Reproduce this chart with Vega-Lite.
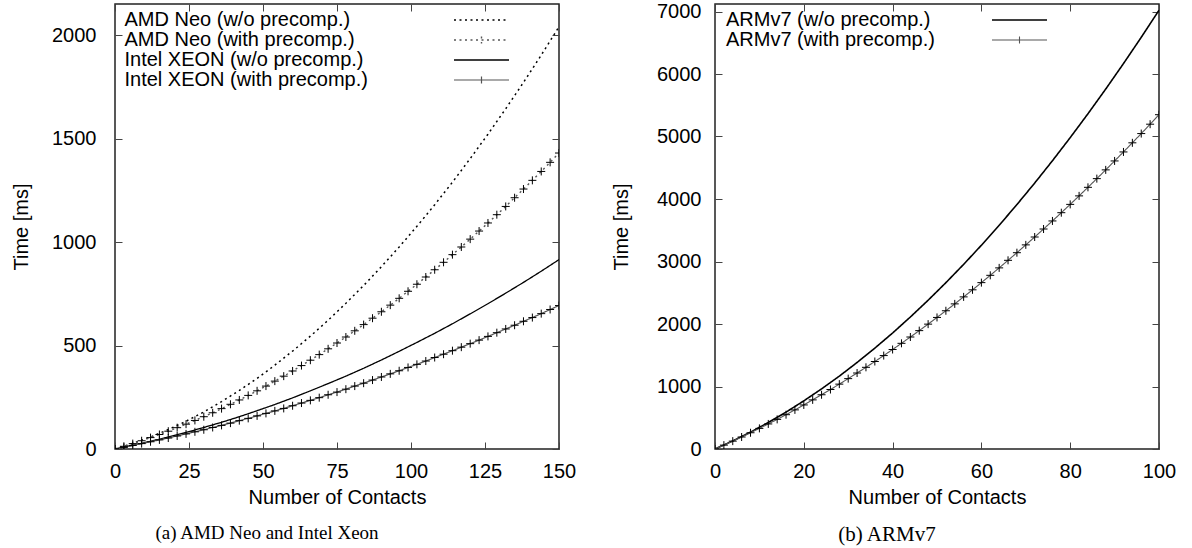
{
"$schema": "https://vega.github.io/schema/vega-lite/v6.json",
"padding": {"left": 10, "top": 0, "right": 5, "bottom": 0},
"spacing": 33,
"datasets": {
"left": [
{"series":"AMD Neo (w/o precomp.)","n":0,"ms":0},{"series":"AMD Neo (w/o precomp.)","n":6,"ms":27},{"series":"AMD Neo (w/o precomp.)","n":12,"ms":58},{"series":"AMD Neo (w/o precomp.)","n":18,"ms":94},{"series":"AMD Neo (w/o precomp.)","n":24,"ms":134},{"series":"AMD Neo (w/o precomp.)","n":30,"ms":179},{"series":"AMD Neo (w/o precomp.)","n":36,"ms":229},{"series":"AMD Neo (w/o precomp.)","n":42,"ms":283},{"series":"AMD Neo (w/o precomp.)","n":48,"ms":341},{"series":"AMD Neo (w/o precomp.)","n":54,"ms":405},{"series":"AMD Neo (w/o precomp.)","n":60,"ms":473},{"series":"AMD Neo (w/o precomp.)","n":66,"ms":545},{"series":"AMD Neo (w/o precomp.)","n":72,"ms":622},{"series":"AMD Neo (w/o precomp.)","n":78,"ms":704},{"series":"AMD Neo (w/o precomp.)","n":84,"ms":790},{"series":"AMD Neo (w/o precomp.)","n":90,"ms":881},{"series":"AMD Neo (w/o precomp.)","n":96,"ms":976},{"series":"AMD Neo (w/o precomp.)","n":102,"ms":1076},{"series":"AMD Neo (w/o precomp.)","n":108,"ms":1180},{"series":"AMD Neo (w/o precomp.)","n":114,"ms":1289},{"series":"AMD Neo (w/o precomp.)","n":120,"ms":1403},{"series":"AMD Neo (w/o precomp.)","n":126,"ms":1521},{"series":"AMD Neo (w/o precomp.)","n":132,"ms":1644},{"series":"AMD Neo (w/o precomp.)","n":138,"ms":1771},{"series":"AMD Neo (w/o precomp.)","n":144,"ms":1903},{"series":"AMD Neo (w/o precomp.)","n":150,"ms":2040},
{"series":"AMD Neo (with precomp.)","n":0,"ms":0},{"series":"AMD Neo (with precomp.)","n":3,"ms":13},{"series":"AMD Neo (with precomp.)","n":6,"ms":26},{"series":"AMD Neo (with precomp.)","n":9,"ms":40},{"series":"AMD Neo (with precomp.)","n":12,"ms":55},{"series":"AMD Neo (with precomp.)","n":15,"ms":70},{"series":"AMD Neo (with precomp.)","n":18,"ms":86},{"series":"AMD Neo (with precomp.)","n":21,"ms":103},{"series":"AMD Neo (with precomp.)","n":24,"ms":120},{"series":"AMD Neo (with precomp.)","n":27,"ms":138},{"series":"AMD Neo (with precomp.)","n":30,"ms":156},{"series":"AMD Neo (with precomp.)","n":33,"ms":175},{"series":"AMD Neo (with precomp.)","n":36,"ms":195},{"series":"AMD Neo (with precomp.)","n":39,"ms":216},{"series":"AMD Neo (with precomp.)","n":42,"ms":237},{"series":"AMD Neo (with precomp.)","n":45,"ms":259},{"series":"AMD Neo (with precomp.)","n":48,"ms":281},{"series":"AMD Neo (with precomp.)","n":51,"ms":304},{"series":"AMD Neo (with precomp.)","n":54,"ms":328},{"series":"AMD Neo (with precomp.)","n":57,"ms":352},{"series":"AMD Neo (with precomp.)","n":60,"ms":377},{"series":"AMD Neo (with precomp.)","n":63,"ms":403},{"series":"AMD Neo (with precomp.)","n":66,"ms":429},{"series":"AMD Neo (with precomp.)","n":69,"ms":456},{"series":"AMD Neo (with precomp.)","n":72,"ms":484},{"series":"AMD Neo (with precomp.)","n":75,"ms":512},{"series":"AMD Neo (with precomp.)","n":78,"ms":541},{"series":"AMD Neo (with precomp.)","n":81,"ms":571},{"series":"AMD Neo (with precomp.)","n":84,"ms":601},{"series":"AMD Neo (with precomp.)","n":87,"ms":632},{"series":"AMD Neo (with precomp.)","n":90,"ms":663},{"series":"AMD Neo (with precomp.)","n":93,"ms":695},{"series":"AMD Neo (with precomp.)","n":96,"ms":728},{"series":"AMD Neo (with precomp.)","n":99,"ms":762},{"series":"AMD Neo (with precomp.)","n":102,"ms":796},{"series":"AMD Neo (with precomp.)","n":105,"ms":831},{"series":"AMD Neo (with precomp.)","n":108,"ms":866},{"series":"AMD Neo (with precomp.)","n":111,"ms":902},{"series":"AMD Neo (with precomp.)","n":114,"ms":939},{"series":"AMD Neo (with precomp.)","n":117,"ms":976},{"series":"AMD Neo (with precomp.)","n":120,"ms":1014},{"series":"AMD Neo (with precomp.)","n":123,"ms":1053},{"series":"AMD Neo (with precomp.)","n":126,"ms":1092},{"series":"AMD Neo (with precomp.)","n":129,"ms":1132},{"series":"AMD Neo (with precomp.)","n":132,"ms":1172},{"series":"AMD Neo (with precomp.)","n":135,"ms":1214},{"series":"AMD Neo (with precomp.)","n":138,"ms":1256},{"series":"AMD Neo (with precomp.)","n":141,"ms":1298},{"series":"AMD Neo (with precomp.)","n":144,"ms":1341},{"series":"AMD Neo (with precomp.)","n":147,"ms":1385},{"series":"AMD Neo (with precomp.)","n":150,"ms":1430},
{"series":"Intel XEON (w/o precomp.)","n":0,"ms":0},{"series":"Intel XEON (w/o precomp.)","n":6,"ms":18},{"series":"Intel XEON (w/o precomp.)","n":12,"ms":37},{"series":"Intel XEON (w/o precomp.)","n":18,"ms":58},{"series":"Intel XEON (w/o precomp.)","n":24,"ms":80},{"series":"Intel XEON (w/o precomp.)","n":30,"ms":104},{"series":"Intel XEON (w/o precomp.)","n":36,"ms":129},{"series":"Intel XEON (w/o precomp.)","n":42,"ms":156},{"series":"Intel XEON (w/o precomp.)","n":48,"ms":185},{"series":"Intel XEON (w/o precomp.)","n":54,"ms":215},{"series":"Intel XEON (w/o precomp.)","n":60,"ms":247},{"series":"Intel XEON (w/o precomp.)","n":66,"ms":281},{"series":"Intel XEON (w/o precomp.)","n":72,"ms":316},{"series":"Intel XEON (w/o precomp.)","n":78,"ms":352},{"series":"Intel XEON (w/o precomp.)","n":84,"ms":390},{"series":"Intel XEON (w/o precomp.)","n":90,"ms":430},{"series":"Intel XEON (w/o precomp.)","n":96,"ms":472},{"series":"Intel XEON (w/o precomp.)","n":102,"ms":515},{"series":"Intel XEON (w/o precomp.)","n":108,"ms":559},{"series":"Intel XEON (w/o precomp.)","n":114,"ms":605},{"series":"Intel XEON (w/o precomp.)","n":120,"ms":653},{"series":"Intel XEON (w/o precomp.)","n":126,"ms":702},{"series":"Intel XEON (w/o precomp.)","n":132,"ms":753},{"series":"Intel XEON (w/o precomp.)","n":138,"ms":805},{"series":"Intel XEON (w/o precomp.)","n":144,"ms":859},{"series":"Intel XEON (w/o precomp.)","n":150,"ms":915},
{"series":"Intel XEON (with precomp.)","n":0,"ms":0},{"series":"Intel XEON (with precomp.)","n":3,"ms":8},{"series":"Intel XEON (with precomp.)","n":6,"ms":17},{"series":"Intel XEON (with precomp.)","n":9,"ms":26},{"series":"Intel XEON (with precomp.)","n":12,"ms":35},{"series":"Intel XEON (with precomp.)","n":15,"ms":44},{"series":"Intel XEON (with precomp.)","n":18,"ms":53},{"series":"Intel XEON (with precomp.)","n":21,"ms":63},{"series":"Intel XEON (with precomp.)","n":24,"ms":73},{"series":"Intel XEON (with precomp.)","n":27,"ms":83},{"series":"Intel XEON (with precomp.)","n":30,"ms":93},{"series":"Intel XEON (with precomp.)","n":33,"ms":104},{"series":"Intel XEON (with precomp.)","n":36,"ms":114},{"series":"Intel XEON (with precomp.)","n":39,"ms":125},{"series":"Intel XEON (with precomp.)","n":42,"ms":137},{"series":"Intel XEON (with precomp.)","n":45,"ms":148},{"series":"Intel XEON (with precomp.)","n":48,"ms":160},{"series":"Intel XEON (with precomp.)","n":51,"ms":172},{"series":"Intel XEON (with precomp.)","n":54,"ms":184},{"series":"Intel XEON (with precomp.)","n":57,"ms":196},{"series":"Intel XEON (with precomp.)","n":60,"ms":209},{"series":"Intel XEON (with precomp.)","n":63,"ms":222},{"series":"Intel XEON (with precomp.)","n":66,"ms":235},{"series":"Intel XEON (with precomp.)","n":69,"ms":248},{"series":"Intel XEON (with precomp.)","n":72,"ms":262},{"series":"Intel XEON (with precomp.)","n":75,"ms":275},{"series":"Intel XEON (with precomp.)","n":78,"ms":289},{"series":"Intel XEON (with precomp.)","n":81,"ms":304},{"series":"Intel XEON (with precomp.)","n":84,"ms":318},{"series":"Intel XEON (with precomp.)","n":87,"ms":333},{"series":"Intel XEON (with precomp.)","n":90,"ms":348},{"series":"Intel XEON (with precomp.)","n":93,"ms":363},{"series":"Intel XEON (with precomp.)","n":96,"ms":378},{"series":"Intel XEON (with precomp.)","n":99,"ms":394},{"series":"Intel XEON (with precomp.)","n":102,"ms":409},{"series":"Intel XEON (with precomp.)","n":105,"ms":425},{"series":"Intel XEON (with precomp.)","n":108,"ms":442},{"series":"Intel XEON (with precomp.)","n":111,"ms":458},{"series":"Intel XEON (with precomp.)","n":114,"ms":475},{"series":"Intel XEON (with precomp.)","n":117,"ms":492},{"series":"Intel XEON (with precomp.)","n":120,"ms":509},{"series":"Intel XEON (with precomp.)","n":123,"ms":526},{"series":"Intel XEON (with precomp.)","n":126,"ms":544},{"series":"Intel XEON (with precomp.)","n":129,"ms":562},{"series":"Intel XEON (with precomp.)","n":132,"ms":580},{"series":"Intel XEON (with precomp.)","n":135,"ms":598},{"series":"Intel XEON (with precomp.)","n":138,"ms":617},{"series":"Intel XEON (with precomp.)","n":141,"ms":635},{"series":"Intel XEON (with precomp.)","n":144,"ms":654},{"series":"Intel XEON (with precomp.)","n":147,"ms":674},{"series":"Intel XEON (with precomp.)","n":150,"ms":693}
],
"right": [
{"series":"ARMv7 (w/o precomp.)","n":0,"ms":0},{"series":"ARMv7 (w/o precomp.)","n":4,"ms":129},{"series":"ARMv7 (w/o precomp.)","n":8,"ms":270},{"series":"ARMv7 (w/o precomp.)","n":12,"ms":424},{"series":"ARMv7 (w/o precomp.)","n":16,"ms":590},{"series":"ARMv7 (w/o precomp.)","n":20,"ms":770},{"series":"ARMv7 (w/o precomp.)","n":24,"ms":962},{"series":"ARMv7 (w/o precomp.)","n":28,"ms":1166},{"series":"ARMv7 (w/o precomp.)","n":32,"ms":1384},{"series":"ARMv7 (w/o precomp.)","n":36,"ms":1614},{"series":"ARMv7 (w/o precomp.)","n":40,"ms":1856},{"series":"ARMv7 (w/o precomp.)","n":44,"ms":2112},{"series":"ARMv7 (w/o precomp.)","n":48,"ms":2380},{"series":"ARMv7 (w/o precomp.)","n":52,"ms":2661},{"series":"ARMv7 (w/o precomp.)","n":56,"ms":2954},{"series":"ARMv7 (w/o precomp.)","n":60,"ms":3260},{"series":"ARMv7 (w/o precomp.)","n":64,"ms":3579},{"series":"ARMv7 (w/o precomp.)","n":68,"ms":3911},{"series":"ARMv7 (w/o precomp.)","n":72,"ms":4255},{"series":"ARMv7 (w/o precomp.)","n":76,"ms":4612},{"series":"ARMv7 (w/o precomp.)","n":80,"ms":4982},{"series":"ARMv7 (w/o precomp.)","n":84,"ms":5364},{"series":"ARMv7 (w/o precomp.)","n":88,"ms":5759},{"series":"ARMv7 (w/o precomp.)","n":92,"ms":6167},{"series":"ARMv7 (w/o precomp.)","n":96,"ms":6587},{"series":"ARMv7 (w/o precomp.)","n":100,"ms":7020},
{"series":"ARMv7 (with precomp.)","n":0,"ms":0},{"series":"ARMv7 (with precomp.)","n":2,"ms":62},{"series":"ARMv7 (with precomp.)","n":4,"ms":126},{"series":"ARMv7 (with precomp.)","n":6,"ms":192},{"series":"ARMv7 (with precomp.)","n":8,"ms":260},{"series":"ARMv7 (with precomp.)","n":10,"ms":330},{"series":"ARMv7 (with precomp.)","n":12,"ms":401},{"series":"ARMv7 (with precomp.)","n":14,"ms":474},{"series":"ARMv7 (with precomp.)","n":16,"ms":549},{"series":"ARMv7 (with precomp.)","n":18,"ms":626},{"series":"ARMv7 (with precomp.)","n":20,"ms":705},{"series":"ARMv7 (with precomp.)","n":22,"ms":786},{"series":"ARMv7 (with precomp.)","n":24,"ms":868},{"series":"ARMv7 (with precomp.)","n":26,"ms":952},{"series":"ARMv7 (with precomp.)","n":28,"ms":1038},{"series":"ARMv7 (with precomp.)","n":30,"ms":1126},{"series":"ARMv7 (with precomp.)","n":32,"ms":1216},{"series":"ARMv7 (with precomp.)","n":34,"ms":1307},{"series":"ARMv7 (with precomp.)","n":36,"ms":1400},{"series":"ARMv7 (with precomp.)","n":38,"ms":1495},{"series":"ARMv7 (with precomp.)","n":40,"ms":1592},{"series":"ARMv7 (with precomp.)","n":42,"ms":1691},{"series":"ARMv7 (with precomp.)","n":44,"ms":1792},{"series":"ARMv7 (with precomp.)","n":46,"ms":1894},{"series":"ARMv7 (with precomp.)","n":48,"ms":1998},{"series":"ARMv7 (with precomp.)","n":50,"ms":2105},{"series":"ARMv7 (with precomp.)","n":52,"ms":2212},{"series":"ARMv7 (with precomp.)","n":54,"ms":2322},{"series":"ARMv7 (with precomp.)","n":56,"ms":2434},{"series":"ARMv7 (with precomp.)","n":58,"ms":2547},{"series":"ARMv7 (with precomp.)","n":60,"ms":2662},{"series":"ARMv7 (with precomp.)","n":62,"ms":2779},{"series":"ARMv7 (with precomp.)","n":64,"ms":2898},{"series":"ARMv7 (with precomp.)","n":66,"ms":3019},{"series":"ARMv7 (with precomp.)","n":68,"ms":3141},{"series":"ARMv7 (with precomp.)","n":70,"ms":3266},{"series":"ARMv7 (with precomp.)","n":72,"ms":3392},{"series":"ARMv7 (with precomp.)","n":74,"ms":3520},{"series":"ARMv7 (with precomp.)","n":76,"ms":3649},{"series":"ARMv7 (with precomp.)","n":78,"ms":3781},{"series":"ARMv7 (with precomp.)","n":80,"ms":3914},{"series":"ARMv7 (with precomp.)","n":82,"ms":4050},{"series":"ARMv7 (with precomp.)","n":84,"ms":4187},{"series":"ARMv7 (with precomp.)","n":86,"ms":4326},{"series":"ARMv7 (with precomp.)","n":88,"ms":4466},{"series":"ARMv7 (with precomp.)","n":90,"ms":4609},{"series":"ARMv7 (with precomp.)","n":92,"ms":4753},{"series":"ARMv7 (with precomp.)","n":94,"ms":4899},{"series":"ARMv7 (with precomp.)","n":96,"ms":5047},{"series":"ARMv7 (with precomp.)","n":98,"ms":5197},{"series":"ARMv7 (with precomp.)","n":100,"ms":5349}
]
},
"resolve": {"scale": {"color": "independent", "strokeDash": "independent", "strokeWidth": "independent"}, "legend": {"color": "independent", "strokeDash": "independent"}},
"hconcat": [
{
"width": 444, "height": 445,
"title": {"text": "(a) AMD Neo and Intel Xeon", "dx": -70},
"data": {"name": "left"},
"layer": [
{
"mark": {"type": "line", "clip": true},
"encoding": {
"x": {"field": "n", "type": "quantitative", "scale": {"domain": [0, 150]}, "axis": {"values": [0, 25, 50, 75, 100, 125, 150], "title": "Number of Contacts", "labelPadding": 19, "titlePadding": 6}},
"y": {"field": "ms", "type": "quantitative", "scale": {"domain": [0, 2150]}, "axis": {"values": [0, 500, 1000, 1500, 2000], "title": "Time [ms]", "labelPadding": 26, "titlePadding": 20}},
"color": {"field": "series", "type": "nominal", "scale": {"domain": ["AMD Neo (w/o precomp.)", "AMD Neo (with precomp.)", "Intel XEON (w/o precomp.)", "Intel XEON (with precomp.)"], "range": ["#000000", "#555555", "#000000", "#555555"]}, "legend": {"title": null, "orient": "none", "legendX": 10, "legendY": 6, "symbolOffset": 346.5, "labelOffset": -367, "encode": {"symbols": {"update": {"shape": {"signal": "indexof(datum.value, 'with') >= 0 ? 'M-5.5,0L5.5,0M0,-0.7L0,0.7' : 'M-5.5,0L5.5,0'"}}}}}},
"strokeDash": {"field": "series", "type": "nominal", "scale": {"domain": ["AMD Neo (w/o precomp.)", "AMD Neo (with precomp.)", "Intel XEON (w/o precomp.)", "Intel XEON (with precomp.)"], "range": [[2, 3.5], [2, 3.5], [1, 0], [1, 0]]}, "legend": {"title": null, "orient": "none", "legendX": 10, "legendY": 6, "symbolOffset": 346.5, "labelOffset": -367, "encode": {"symbols": {"update": {"shape": {"signal": "indexof(datum.value, 'with') >= 0 ? 'M-5.5,0L5.5,0M0,-0.7L0,0.7' : 'M-5.5,0L5.5,0'"}}}}}},
"strokeWidth": {"field": "series", "type": "nominal", "scale": {"domain": ["AMD Neo (w/o precomp.)", "AMD Neo (with precomp.)", "Intel XEON (w/o precomp.)", "Intel XEON (with precomp.)"], "range": [1.5, 1.2, 1.6, 1.1]}, "legend": null}
}
},
{
"transform": [{"filter": {"field": "series", "oneOf": ["AMD Neo (with precomp.)", "Intel XEON (with precomp.)"]}}],
"mark": {"type": "point", "shape": "M-1,0L1,0M0,-1L0,1", "size": 64, "filled": false, "color": "#000000", "strokeWidth": 1, "opacity": 1, "clip": true},
"encoding": {
"x": {"field": "n", "type": "quantitative", "scale": {"domain": [0, 150]}, "axis": {"orient": "top", "labels": false, "title": null, "values": [0, 25, 50, 75, 100, 125, 150]}},
"y": {"field": "ms", "type": "quantitative", "scale": {"domain": [0, 2150]}, "axis": {"orient": "right", "labels": false, "title": null, "values": [0, 500, 1000, 1500, 2000]}}
}
}
],
"resolve": {"axis": {"x": "independent", "y": "independent"}}
},
{
"width": 444, "height": 445,
"title": {"text": "(b) ARMv7", "dx": -50, "fontSize": 21},
"data": {"name": "right"},
"layer": [
{
"mark": {"type": "line", "clip": true},
"encoding": {
"x": {"field": "n", "type": "quantitative", "scale": {"domain": [0, 100]}, "axis": {"values": [0, 20, 40, 60, 80, 100], "title": "Number of Contacts", "labelPadding": 19, "titlePadding": 6}},
"y": {"field": "ms", "type": "quantitative", "scale": {"domain": [0, 7120]}, "axis": {"values": [0, 1000, 2000, 3000, 4000, 5000, 6000, 7000], "title": "Time [ms]", "labelPadding": 21, "titlePadding": 25}},
"color": {"field": "series", "type": "nominal", "scale": {"domain": ["ARMv7 (w/o precomp.)", "ARMv7 (with precomp.)"], "range": ["#000000", "#555555"]}, "legend": {"title": null, "orient": "none", "legendX": 11, "legendY": 6, "symbolOffset": 283.5, "labelOffset": -303.5, "encode": {"symbols": {"update": {"shape": {"signal": "indexof(datum.value, 'with') >= 0 ? 'M-5.5,0L5.5,0M0,-0.7L0,0.7' : 'M-5.5,0L5.5,0'"}}}}}},
"strokeDash": {"field": "series", "type": "nominal", "scale": {"domain": ["ARMv7 (w/o precomp.)", "ARMv7 (with precomp.)"], "range": [[1, 0], [1, 0]]}, "legend": {"title": null, "orient": "none", "legendX": 11, "legendY": 6, "symbolOffset": 283.5, "labelOffset": -303.5, "encode": {"symbols": {"update": {"shape": {"signal": "indexof(datum.value, 'with') >= 0 ? 'M-5.5,0L5.5,0M0,-0.7L0,0.7' : 'M-5.5,0L5.5,0'"}}}}}},
"strokeWidth": {"field": "series", "type": "nominal", "scale": {"domain": ["ARMv7 (w/o precomp.)", "ARMv7 (with precomp.)"], "range": [1.6, 1.1]}, "legend": null}
}
},
{
"transform": [{"filter": {"field": "series", "oneOf": ["ARMv7 (with precomp.)"]}}],
"mark": {"type": "point", "shape": "M-1,0L1,0M0,-1L0,1", "size": 64, "filled": false, "color": "#000000", "strokeWidth": 1, "opacity": 1, "clip": true},
"encoding": {
"x": {"field": "n", "type": "quantitative", "scale": {"domain": [0, 100]}, "axis": {"orient": "top", "labels": false, "title": null, "values": [0, 20, 40, 60, 80, 100]}},
"y": {"field": "ms", "type": "quantitative", "scale": {"domain": [0, 7120]}, "axis": {"orient": "right", "labels": false, "title": null, "values": [0, 1000, 2000, 3000, 4000, 5000, 6000, 7000]}}
}
}
],
"resolve": {"axis": {"x": "independent", "y": "independent"}}
}
],
"config": {
"font": "Liberation Sans",
"background": "#ffffff",
"view": {"stroke": "#222222", "strokeWidth": 1.5},
"axis": {"domain": false, "grid": false, "format": "d", "labelFont": "Liberation Sans", "labelFontSize": 20, "labelColor": "#000000", "labelFlush": false, "labelOverlap": false, "titleFont": "Liberation Sans", "titleFontSize": 20, "titleFontWeight": "normal", "titleColor": "#000000", "tickColor": "#444444", "tickSize": -7, "tickWidth": 1},
"axisTop": {"minExtent": 0, "maxExtent": 0},
"axisRight": {"minExtent": 0, "maxExtent": 0},
"legend": {"labelFont": "Liberation Sans", "labelFontSize": 20, "labelColor": "#000000", "labelLimit": 400, "symbolSize": 100, "symbolType": "M-5.5,0L5.5,0", "rowPadding": 0, "padding": 0, "symbolStrokeWidth": 1.3},
"title": {"font": "Liberation Serif", "fontSize": 19, "fontWeight": "normal", "orient": "bottom", "anchor": "middle", "color": "#000000", "offset": 17}
}
}
